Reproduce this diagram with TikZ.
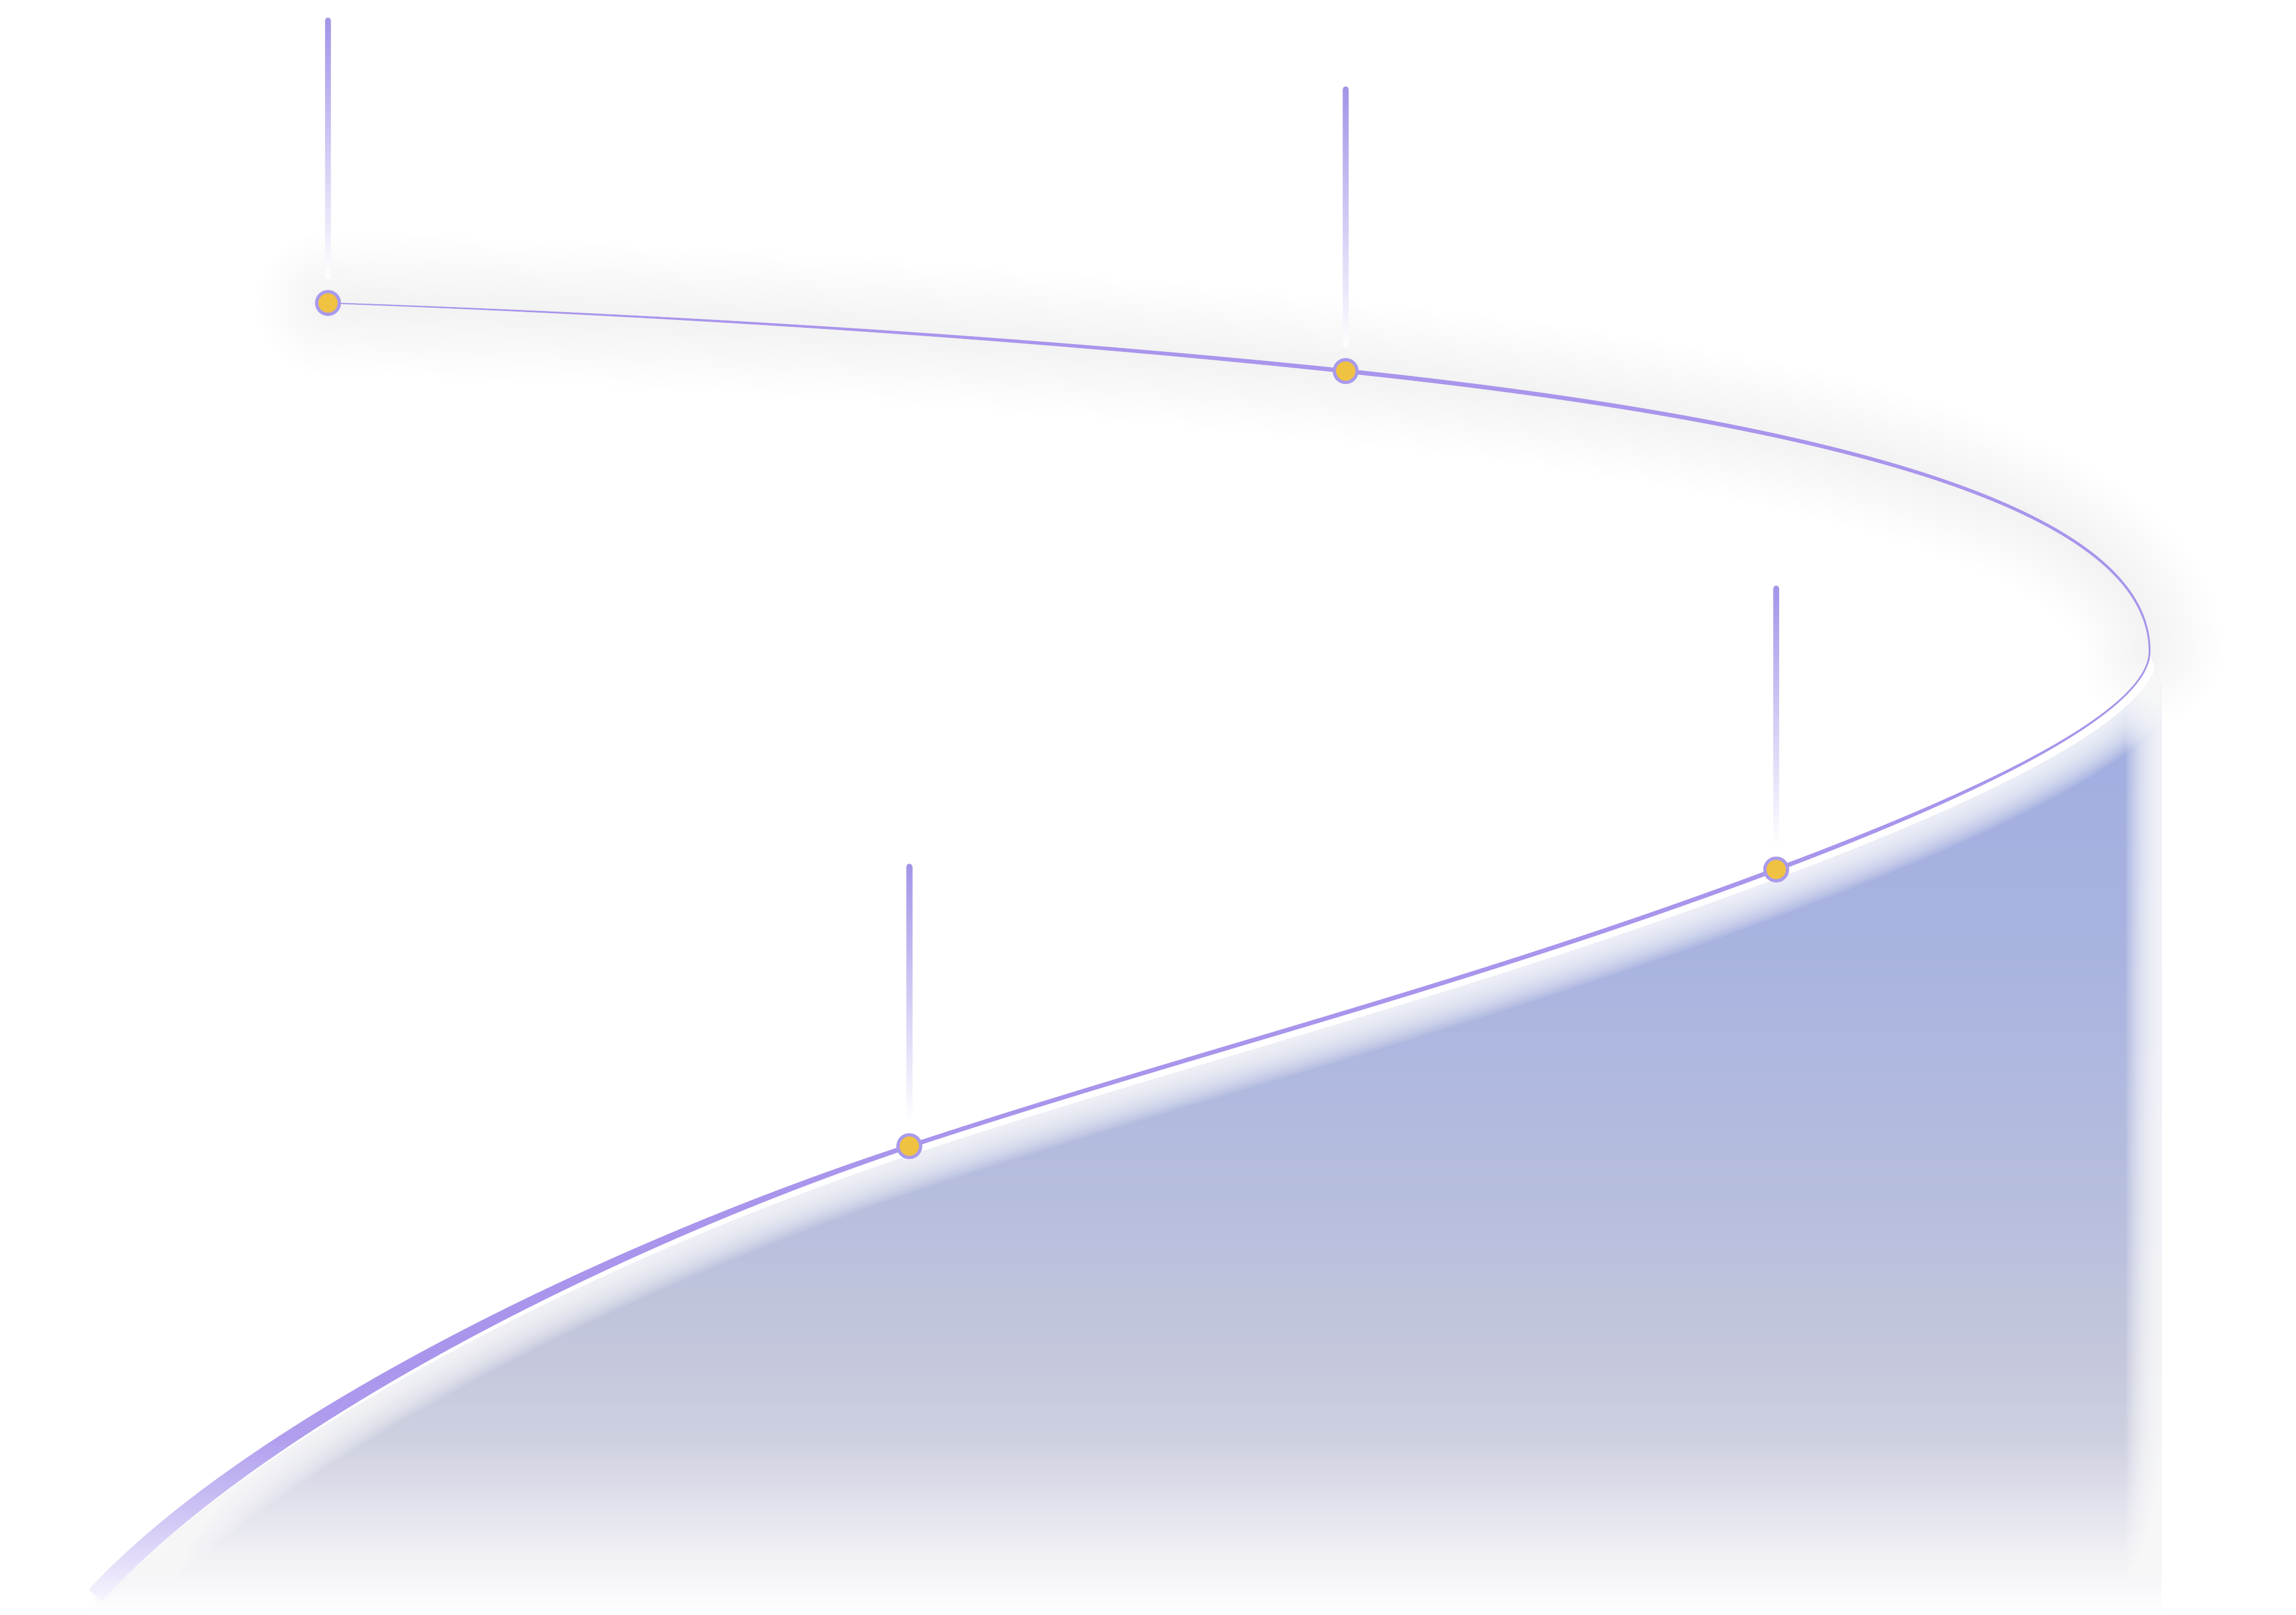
\documentclass[tikz,border=0pt]{standalone}
\usepackage{tikz}
\usetikzlibrary{calc}
\definecolor{rline}{HTML}{A995EC}
\definecolor{pinviolet}{HTML}{A394E8}
\definecolor{dotfill}{HTML}{F0C242}
\definecolor{dotring}{HTML}{A99AEB}
\definecolor{hazegray}{HTML}{6E7486}
\definecolor{roadA}{HTML}{A3AFE0}
\definecolor{roadB}{HTML}{A9B3E0}
\definecolor{roadC}{HTML}{B8BFDD}
\definecolor{roadD}{HTML}{C4C7DC}
\definecolor{roadE}{HTML}{CDD0E0}
\definecolor{roadF}{HTML}{DCDDE9}
\definecolor{roadG}{HTML}{EFEFF4}
\definecolor{roadH}{HTML}{FAFAFC}
\pgfdeclareverticalshading{roadfade}{100bp}{color(0bp)=(white); color(25bp)=(white); color(26bp)=(roadH); color(28.3bp)=(roadG); color(31.6bp)=(roadF); color(34.3bp)=(roadE); color(38.5bp)=(roadD); color(45.4bp)=(roadC); color(59.2bp)=(roadB); color(68.8bp)=(roadA); color(100bp)=(roadA)}
\pgfdeclareverticalshading{tailfade}{100bp}{color(0bp)=(rline!6); color(25bp)=(rline!8); color(28.7bp)=(rline!28); color(34.6bp)=(rline!55); color(43bp)=(rline!92); color(52bp)=(rline); color(100bp)=(rline)}
\newcommand\roadedge{(turn) .. controls (1468,490) and (1330,550) .. (p3) .. controls (1000,674) and (821,717) .. (p4) .. controls (421,849) and (175,970) .. (tail)}
\newcommand\roadoutline{\roadedge -- (65,1103) -- (1476,1103) -- (1476,470) -- cycle}

\begin{document}
\begin{tikzpicture}[x=0.1mm, y=-0.1mm,
    stopdot/.style={circle, draw=dotring, fill=dotfill, line width=0.22mm, minimum size=1.55mm, inner sep=0pt},
    pinbar/.style={top color=pinviolet, middle color=pinviolet!90, bottom color=white, rounded corners=0.2mm},
    haze/.style={draw=hazegray, draw opacity=0.0035, line cap=round},
    glow/.style={draw=white, draw opacity=0.1}
  ]
  \useasboundingbox (0,0) rectangle (1568,1103);
  \fill[white] (0,0) rectangle (1568,1103);

  \coordinate (p1) at (224,207);
  \coordinate (p2) at (919,253.5);
  \coordinate (p3) at (1213,594);
  \coordinate (p4) at (621,783);
  \coordinate (turn) at (1468,445);
  \coordinate (tail) at (65,1090);
  \coordinate (t1) at (224,12);
  \coordinate (t2) at (919,59);
  \coordinate (t3) at (1213,400);
  \coordinate (t4) at (621,590);

  \foreach \i [evaluate=\i as \w using \i*0.8] in {1,...,12}
    \draw[haze, line width=\w mm] (p1) .. controls (450,215) and (700,230) .. (p2) .. controls (1219,285) and (1468,340) .. (turn);

  \shade[shading=roadfade] \roadoutline;
  \begin{scope}
    \clip \roadoutline;
    \draw[white, line width=1.2mm] \roadedge;
    \foreach \i [evaluate=\i as \w using 1.3+\i*0.3] in {1,...,16}
      \draw[glow, line width=\w mm] \roadedge;
    \foreach \i [evaluate=\i as \w using \i*0.3] in {1,...,16}
      \draw[glow, draw opacity=0.12, line width=\w mm] (1476,445) -- (1476,1103);
  \end{scope}

  \fill[rline] (224,206.6) .. controls (450,214.3) and (700,229.3) .. (919.16,252) -- (918.84,255) .. controls (700,231.6) and (450,215.6) .. (224,207.4) -- cycle;
  \fill[rline] (919.16,252) .. controls (1219.15,283.55) and (1469,339) .. (1468.6,445) -- (1467.4,445) .. controls (1467,341) and (1218.85,286.45) .. (918.84,255) -- cycle;
  \fill[rline] (1468.6,445) .. controls (1468.7,490.2) and (1330.5,551.2) .. (1213.5,595.4) -- (1212.5,592.6) .. controls (1329.5,548.8) and (1467.3,489.8) .. (1467.4,445) -- cycle;
  \draw[rline, line width=0.3mm] (p3) .. controls (1000,674) and (821,717) .. (p4);
  \shade[shading=tailfade] (620.5,781.5) .. controls (419.9,846.8) and (171.3,966.6) .. (60.6,1085.9) -- (69.4,1094.1) .. controls (178.7,973.4) and (422.1,851.2) .. (621.5,784.5) -- cycle;

  \foreach \n in {1,...,4}
    \shade[pinbar] ($(t\n)+(-2,0)$) rectangle ($(p\n)+(2,-16)$);
  \foreach \n in {1,...,4}
    \node[stopdot] (s\n) at (p\n) {};
\end{tikzpicture}
\end{document}
